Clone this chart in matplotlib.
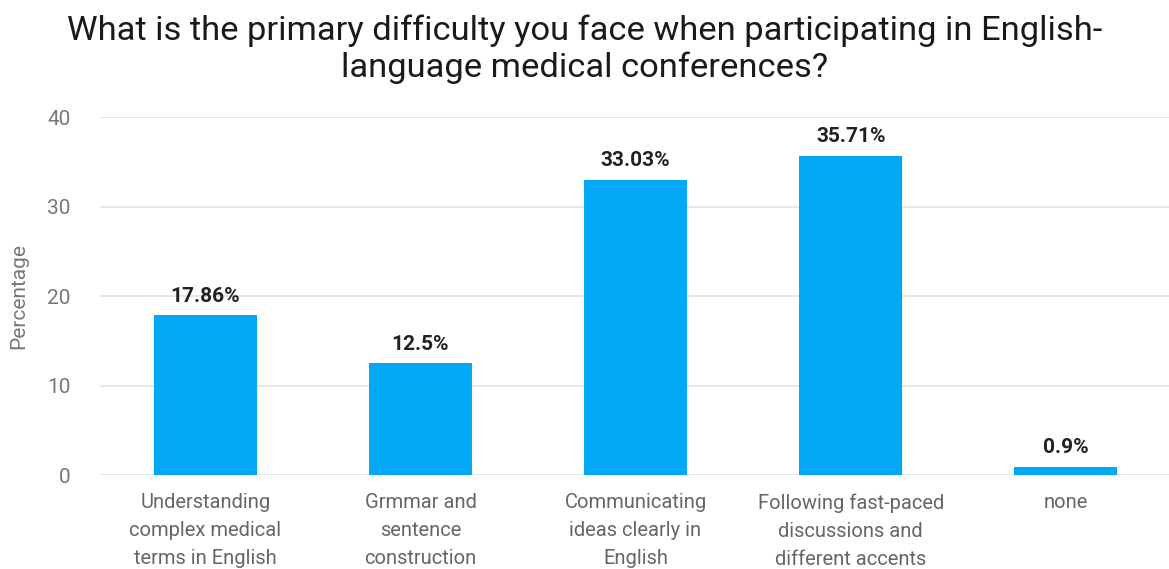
import matplotlib.pyplot as plt

plt.rcParams['font.family'] = ['Roboto', 'DejaVu Sans']

categories = [
    "Understanding\ncomplex medical\nterms in English",
    "Grmmar and\nsentence\nconstruction",
    "Communicating\nideas clearly in\nEnglish",
    "Following fast-paced\ndiscussions and\ndifferent accents",
    "none",
]
percentages = [17.86, 12.5, 33.03, 35.71, 0.9]
value_labels = ["17.86%", "12.5%", "33.03%", "35.71%", "0.9%"]

fig = plt.figure(figsize=(11.69, 5.69), dpi=100)
ax = fig.add_axes([0.0855, 0.165, 0.9145, 0.629])

x = range(len(categories))
ax.bar(x, percentages, width=0.48, color='#03A9F4', zorder=2)

for xi, v, lab in zip(x, percentages, value_labels):
    ax.annotate(lab, (xi, v), xytext=(0, 7), textcoords='offset points',
                ha='center', va='bottom', fontsize=15, fontweight='bold',
                color='#212121')

ax.set_xlim(-0.49, 4.48)
ax.set_ylim(0, 40)
ax.set_yticks([0, 10, 20, 30, 40])
ax.set_xticks(list(x))
ax.set_xticklabels(categories, fontsize=14.5, color='#666666', linespacing=1.6)
ax.tick_params(axis='y', labelsize=15, labelcolor='#777777', length=0, pad=21)
ax.tick_params(axis='x', length=0, pad=13)
ax.grid(axis='y', color='#e3e3e3', linewidth=1.2, zorder=0)
for s in ax.spines.values():
    s.set_visible(False)

ax.set_ylabel('Percentage', fontsize=15, color='#777777', labelpad=14)

fig.suptitle("What is the primary difficulty you face when participating in English-\nlanguage medical conferences?",
             x=0.5, y=0.975, fontsize=24.8, color='#1a1a1a', linespacing=1.2)

fig.savefig('out.png', dpi=100)
